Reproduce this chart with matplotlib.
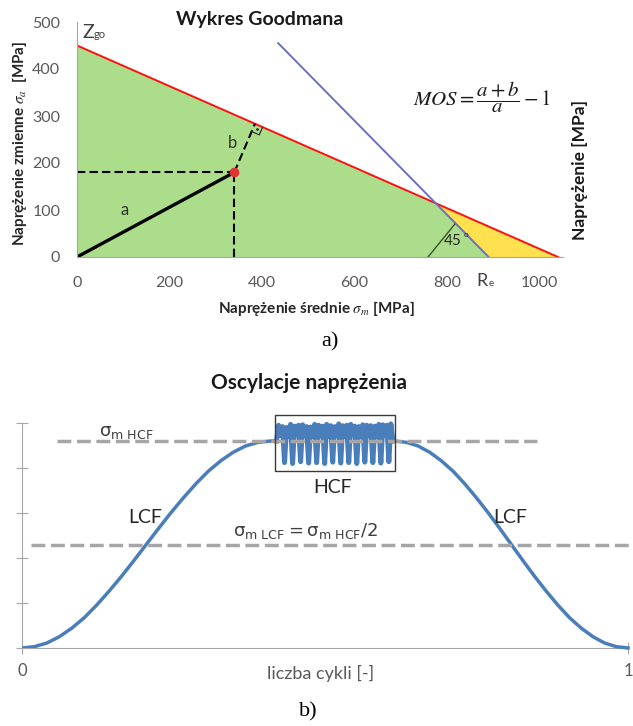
import numpy as np
import matplotlib
matplotlib.use("Agg")
import matplotlib.pyplot as plt
from matplotlib.patches import Rectangle

plt.rcParams['font.family'] = ['Lato', 'DejaVu Sans']
plt.rcParams['mathtext.fontset'] = 'dejavusans'

# --- a) Goodman diagram data [MPa] ---
z_go = 450          # fatigue limit on the sigma_a axis
r_m = 1040          # where the Goodman line meets sigma_m axis
r_e = 890           # yield strength (45 deg line)
blue_top = 455      # upper end of the yield line
point_m, point_a = 340, 180   # working point
x_ticks = [0, 200, 400, 600, 800, 1000]
y_ticks = [0, 100, 200, 300, 400, 500]

# --- b) stress oscillation data ---
rise = [0, 0.03, 0.11, 0.25, 0.44, 0.67, 0.95, 1.26, 1.59, 1.94, 2.30,
        2.66, 3.01, 3.34, 3.65, 3.93, 4.16, 4.35, 4.49, 4.57, 4.60]
fall = rise[::-1]
hcf_osc = [4.60,
           4.95, 4.72, 4.92, 4.12, 4.90, 4.70, 4.97, 4.10,
           4.93, 4.74, 4.95, 4.14, 4.96, 4.72, 4.92, 4.11,
           4.91, 4.70, 4.97, 4.12, 4.95, 4.73, 4.93, 4.10,
           4.97, 4.71, 4.94, 4.13, 4.92, 4.72, 4.98, 4.11,
           4.94, 4.70, 4.95, 4.12, 4.97, 4.74, 4.93, 4.10,
           4.92, 4.71, 4.96, 4.13, 4.95, 4.72, 4.94, 4.12,
           4.93, 4.70, 4.97, 4.11, 4.96, 4.73, 4.95, 4.14,
           4.98, 4.60]
rise_span = (0.0, 0.41)
hcf_span = (0.42, 0.612)
fall_span = (0.615, 1.0)
sigma_hcf = 4.6
sigma_lcf = sigma_hcf / 2
hcf_box = (0.417, 3.93, 0.199, 1.25)   # x, y, w, h

GRAY = '#595959'
BLUE = '#4a7ebb'

fig = plt.figure(figsize=(6.33, 7.26), dpi=100)

# ================= a) =================
ax1 = fig.add_axes([77/633, (726-257)/726, 1050*0.4625/633, 235/726])
xs = np.linspace(0, r_m, 800)
red = z_go * (1 - xs / r_m)
blue = np.clip(r_e - xs, 0, None)
ax1.fill_between(xs, 0, np.minimum(red, blue), color='#abdd8b', lw=0)
ax1.fill_between(xs, blue, red, where=red > blue, color='#ffe04f', lw=0)
ax1.plot([0, r_m], [z_go, 0], color='#ff1010', lw=1.4)
ax1.plot([r_e - blue_top, r_e], [blue_top, 0], color='#6b70c4', lw=1.4)

# working point, a and b
ax1.plot([0, point_m], [0, point_a], color='black', lw=2.4, solid_capstyle='round')
ax1.plot([0, point_m], [point_a, point_a], color='black', lw=1.5, ls=(0, (4, 2)))
ax1.plot([point_m, point_m], [0, point_a], color='black', lw=1.5, ls=(0, (4, 2)))
n = np.array([z_go / r_m, 1.0])
d = (n @ np.array([point_m, point_a]) - z_go) / (n @ n)
foot = np.array([point_m, point_a]) - d * n
ax1.plot([point_m, foot[0]], [point_a, foot[1]], color='black', lw=1.5, ls=(0, (4, 2)))
ax1.plot([point_m], [point_a], 'o', color='#e03535', ms=6, zorder=5)
u = np.array([r_m, -z_go]); u = u / np.linalg.norm(u) * 18
v = -n / np.linalg.norm(n) * 18
sq = np.array([foot, foot + u, foot + u + v, foot + v])
ax1.plot(sq[1:, 0], sq[1:, 1], color='#2a3a20', lw=0.9)
cdot = foot + 0.5 * (u + v)
ax1.plot([cdot[0]], [cdot[1]], '.', color='#2a3a20', ms=2)

# 45 deg marker
ax1.plot([759, 817], [0, 70], color='#3a5530', lw=1)
ax1.text(812, 34, '45', fontsize=11, color='#262626', ha='center', va='center')
ax1.text(840, 48, 'o', fontsize=6, color='#262626', ha='center', va='center')

ax1.text(104, 100, 'a', fontsize=12, color='#333333', ha='center', va='center')
ax1.text(337, 243, 'b', fontsize=12, color='#333333', ha='center', va='center')
ax1.text(12, 478, 'Z', fontsize=14, color='#404040', va='center')
ax1.text(36, 473, 'go', fontsize=8, color='#404040', va='center')
ax1.text(876, -52, 'R', fontsize=13, color='#404040', ha='center', va='center', clip_on=False)
ax1.text(895, -57, 'e', fontsize=7, color='#404040', ha='center', va='center', clip_on=False)

ax1.set_xlim(0, 1050)
ax1.set_ylim(0, 500)
ax1.set_xticks(x_ticks)
ax1.set_yticks(y_ticks)
ax1.tick_params(length=0, labelsize=11.5, labelcolor=GRAY)
ax1.tick_params(axis='x', pad=14)
ax1.tick_params(axis='y', pad=12)
for s in ['top', 'right']:
    ax1.spines[s].set_visible(False)
for s in ['left', 'bottom']:
    ax1.spines[s].set_color('#a6a6a6')
    ax1.spines[s].set_linewidth(0.8)

fig.text(260/633, 1-20/726, 'Wykres Goodmana', fontsize=14, weight='bold',
         ha='center', va='center', color='#1a1a1a')
fig.text(20/633, 1-143/726, r'Naprężenie zmienne $\sigma_a$  [MPa]', fontsize=11,
         weight='bold', rotation=90, ha='center', va='center', color='#262626',
         math_fontfamily='stix')
fig.text(316/633, 1-308/726, r'Naprężenie średnie $\sigma_m$ [MPa]', fontsize=11,
         weight='bold', ha='center', va='center', color='#262626',
         math_fontfamily='stix')
fig.text(580/633, 1-170/726, 'Naprężenie [MPa]', fontsize=12.5, weight='bold',
         rotation=90, ha='center', va='center', color='#1a1a1a')
fig.text(482/633, 1-97/726, r'$MOS=\dfrac{a+b}{a}-1$', fontsize=15,
         ha='center', va='center', math_fontfamily='stix', color='#1a1a1a')
fig.text(330/633, 1-342/726, 'a)', fontsize=16, family='Liberation Serif',
         ha='center', va='center')

# ================= b) =================
ax2 = fig.add_axes([22/633, (726-648)/726, 606/633, 238.5/726])
x_rise = np.linspace(*rise_span, len(rise))
x_hcf = np.linspace(*hcf_span, len(hcf_osc))
x_fall = np.linspace(*fall_span, len(fall))
ax2.plot(np.append(x_rise, x_hcf[0]), rise + [hcf_osc[0]], color=BLUE, lw=2.5, zorder=3)
ax2.plot(x_hcf, hcf_osc, color=BLUE, lw=3.6, zorder=3)
ax2.plot(np.insert(x_fall, 0, x_hcf[-1]), [hcf_osc[-1]] + fall, color=BLUE, lw=2.5,
         zorder=3, clip_on=False)
ax2.plot([0.058, 0.85], [sigma_hcf, sigma_hcf], color='#a6a6a6', lw=2.5,
         ls=(0, (4, 1.6)), zorder=4)
ax2.plot([0.015, 1.01], [sigma_lcf, sigma_lcf], color='#a6a6a6', lw=2.5,
         ls=(0, (4, 1.6)), zorder=4, clip_on=False)
ax2.add_patch(Rectangle(hcf_box[:2], hcf_box[2], hcf_box[3], fill=False,
                        ec='#3a3a3a', lw=1, zorder=5))

ax2.text(0.172, 4.78, r'$\mathrm{\sigma_{m\ HCF}}$', fontsize=13, color='#404040',
         ha='center', va='center')
ax2.text(0.467, 2.6, r'$\mathrm{\sigma_{m\ LCF} = \sigma_{m\ HCF}/2}$', fontsize=13,
         color='#404040', ha='center', va='center')
ax2.text(0.203, 2.91, 'LCF', fontsize=14, color='#262626', ha='center', va='center')
ax2.text(0.805, 2.89, 'LCF', fontsize=14, color='#262626', ha='center', va='center')
ax2.text(0.513, 3.56, 'HCF', fontsize=14, color='#262626', ha='center', va='center')

ax2.set_xlim(0, 1)
ax2.set_ylim(0, 5.3)
ax2.set_yticks([0, 1, 2, 3, 4, 5])
ax2.set_yticklabels([])
ax2.set_xticks([0, 1])
ax2.set_xticklabels(['0', '1'])
ax2.tick_params(axis='y', direction='inout', length=9, color='#a6a6a6', width=0.8)
ax2.tick_params(axis='x', direction='inout', length=8, color='#a6a6a6', width=0.8,
                labelsize=12, labelcolor=GRAY, pad=7)
for s in ['top', 'right']:
    ax2.spines[s].set_visible(False)
for s in ['left', 'bottom']:
    ax2.spines[s].set_color('#a6a6a6')
    ax2.spines[s].set_linewidth(0.8)
ax2.spines['left'].set_bounds(0, 5)

fig.text(321/633, 1-673/726, 'liczba cykli [-]', fontsize=13, color=GRAY,
         ha='center', va='center')
fig.text(309/633, 1-383/726, 'Oscylacje naprężenia', fontsize=15, weight='bold',
         ha='center', va='center', color='#1a1a1a')
fig.text(308/633, 1-712/726, 'b)', fontsize=16, family='Liberation Serif',
         ha='center', va='center')

fig.savefig('out.png', dpi=100)
